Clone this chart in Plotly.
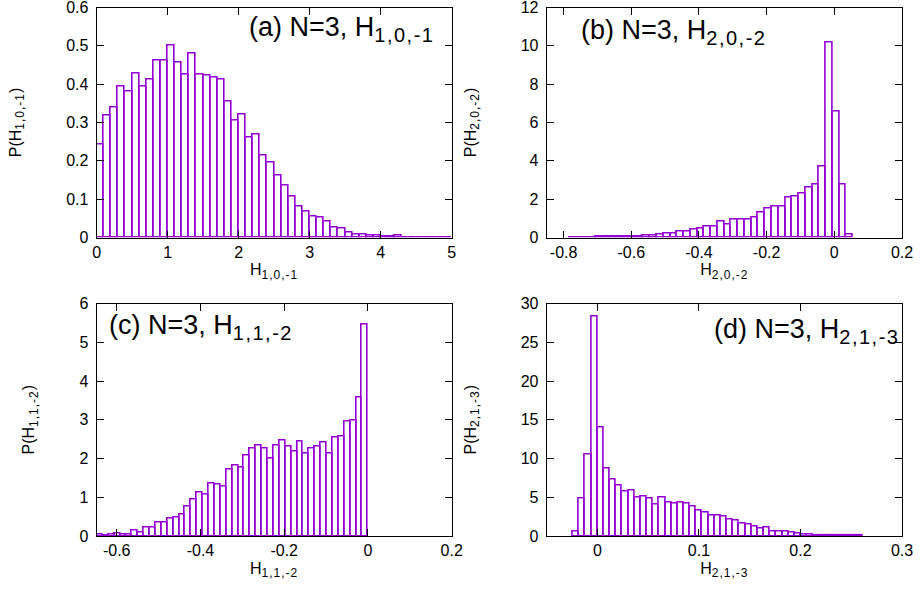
import plotly.graph_objects as go

# ---------------- data ----------------
# (a) H_{1,0,-1}: bin width 0.1 starting at 0
a_bin0 = 0.0
a_width = 0.1
a_vals = [0.243, 0.317, 0.338, 0.394, 0.380, 0.427, 0.393, 0.413, 0.462, 0.461,
          0.501, 0.457, 0.426, 0.479, 0.424, 0.422, 0.418, 0.411, 0.355, 0.305,
          0.320, 0.260, 0.270, 0.214, 0.195, 0.161, 0.136, 0.107, 0.081, 0.067,
          0.054, 0.052, 0.041, 0.025, 0.024, 0.013, 0.008, 0.008, 0.005, 0.005,
          0.003, 0.002, 0.005, 0.001, 0.001, 0.001, 0.0006, 0.0005, 0.0003, 0.0002]

# (b) H_{2,0,-2}: bin width 0.02, first left edge -0.785
b_bin0 = -0.785
b_width = 0.02
b_vals = [0.01, 0.02, 0.02, 0.02, 0.03, 0.03, 0.04, 0.05, 0.05, 0.07,
          0.07, 0.09, 0.10, 0.14, 0.22, 0.21, 0.29, 0.33, 0.44, 0.46,
          0.57, 0.60, 0.82, 0.67, 0.94, 0.93, 0.96, 1.02, 1.33, 1.49,
          1.64, 1.64, 2.07, 2.15, 2.32, 2.62, 2.75, 3.70, 10.2, 6.55,
          2.79, 0.14]

# (c) H_{1,1,-2}: 46 bins from -0.648 to 0
c_bin0 = -0.648
c_width = 0.648 / 46
c_vals = [0.03, 0.02, 0.03, 0.06, 0.04, 0.03, 0.13, 0.10, 0.21, 0.21,
          0.34, 0.36, 0.45, 0.49, 0.56, 0.75, 0.94, 1.11, 1.07, 1.35,
          1.33, 1.28, 1.71, 1.82, 1.76, 2.07, 2.26, 2.33, 2.27, 1.99,
          2.33, 2.46, 2.32, 2.17, 2.43, 2.13, 2.26, 2.30, 2.42, 2.14,
          2.53, 2.57, 2.95, 2.97, 3.58, 5.46]

# (d) H_{2,1,-3}: bin width ~0.00607 from -0.0243
d_bin0 = -0.0243
d_width = 0.00607
d_vals = [0.62, 4.78, 10.5, 28.3, 14.0, 8.7, 7.3, 6.55, 5.7, 5.9,
          4.98, 5.08, 4.85, 4.07, 4.97, 4.26, 4.25, 4.38, 4.25, 3.77,
          3.32, 3.04, 2.67, 2.60, 2.58, 2.12, 1.96, 1.62, 1.49, 1.23,
          0.97, 1.10, 0.58, 0.55, 0.58, 0.45, 0.26, 0.17, 0.13, 0.09,
          0.07, 0.05, 0.04, 0.03, 0.02, 0.02, 0.01]

# axis ticks
a_xticks = [0, 1, 2, 3, 4, 5]
a_yticks = [0, 0.1, 0.2, 0.3, 0.4, 0.5, 0.6]
b_xticks = [-0.8, -0.6, -0.4, -0.2, 0, 0.2]
b_yticks = [0, 2, 4, 6, 8, 10, 12]
c_xticks = [-0.6, -0.4, -0.2, 0, 0.2]
c_yticks = [0, 1, 2, 3, 4, 5, 6]
d_xticks = [0, 0.1, 0.2, 0.3]
d_yticks = [0, 5, 10, 15, 20, 25, 30]

panels = [
    dict(bin0=a_bin0, w=a_width, vals=a_vals, xr=[0, 5], yr=[0, 0.6],
         xt=a_xticks, yt=a_yticks, sub="1,0,-1", tag="(a)",
         ann=(2.12, 0.545)),
    dict(bin0=b_bin0, w=b_width, vals=b_vals, xr=[-0.85, 0.2], yr=[0, 12],
         xt=b_xticks, yt=b_yticks, sub="2,0,-2", tag="(b)",
         ann=(-0.754, 10.7)),
    dict(bin0=c_bin0, w=c_width, vals=c_vals, xr=[-0.648, 0.2], yr=[0, 6],
         xt=c_xticks, yt=c_yticks, sub="1,1,-2", tag="(c)",
         ann=(-0.623, 5.4)),
    dict(bin0=d_bin0, w=d_width, vals=d_vals, xr=[-0.05, 0.3], yr=[0, 30],
         xt=d_xticks, yt=d_yticks, sub="2,1,-3", tag="(d)",
         ann=(0.113, 26.4)),
]

W, H = 921, 603
xdoms = [[96.6 / W, 451.7 / W], [546.7 / W, 902 / W]]
ydoms = [[1 - 237.5 / H, 1 - 7.5 / H], [1 - 536 / H, 1 - 303.5 / H]]

COLOR = "#9400d3"
FONT = "Liberation Sans, Arial, sans-serif"
TF = 16

def fmt(v):
    return "%g" % v

def sub_small(s):
    return '<sub><span style="font-size:12px;letter-spacing:1px">%s</span></sub>' % s

def sub_big(s):
    return '<sub><span style="font-size:20px;letter-spacing:1.5px">%s</span></sub>' % s

fig = go.Figure()
for i, p in enumerate(panels):
    n = i + 1
    xs = [p["bin0"] + p["w"] * (k + 0.5) for k in range(len(p["vals"]))]
    xname = "x%d" % n if n > 1 else "x"
    yname = "y%d" % n if n > 1 else "y"
    fig.add_trace(go.Bar(
        x=xs, y=p["vals"], width=[p["w"]] * len(xs),
        marker=dict(color="rgba(0,0,0,0)", line=dict(color=COLOR, width=1.6)),
        xaxis=xname, yaxis=yname, showlegend=False, hoverinfo="skip"))
    row, col = i // 2, i % 2
    common = dict(tickmode="array", ticks="inside", ticklen=7, tickcolor="black",
                  showline=True, linecolor="black", linewidth=1, mirror="ticks",
                  showgrid=False, zeroline=False, automargin=False,
                  ticklabeloverflow="allow",
                  tickfont=dict(family=FONT, size=TF, color="black"))
    xa = dict(domain=xdoms[col], range=p["xr"], anchor=yname,
              tickvals=p["xt"], ticktext=[fmt(v) for v in p["xt"]],
              title=dict(text="H" + sub_small(p["sub"]), standoff=4,
                         font=dict(family=FONT, size=TF, color="black")),
              **common)
    ya = dict(domain=ydoms[row], range=p["yr"], anchor=xname,
              tickvals=p["yt"], ticktext=[fmt(v) for v in p["yt"]],
              ticklabelstandoff=4,
              title=dict(text="P(H" + sub_small(p["sub"]) + ")", standoff=40,
                         font=dict(family=FONT, size=TF, color="black")),
              **common)
    fig.update_layout(**{("xaxis%d" % n if n > 1 else "xaxis"): xa,
                         ("yaxis%d" % n if n > 1 else "yaxis"): ya})
    fig.add_annotation(x=p["ann"][0], y=p["ann"][1], xref=xname, yref=yname,
                       text="%s N=3, H%s" % (p["tag"], sub_big(p["sub"])),
                       showarrow=False, xanchor="left", yanchor="middle",
                       font=dict(family=FONT, size=27, color="black"))

fig.update_layout(width=W, height=H, margin=dict(l=0, r=0, t=0, b=0),
                  paper_bgcolor="white", plot_bgcolor="white",
                  bargap=0, barmode="overlay")
fig.write_html("out.html", config={"displayModeBar": False},
               post_script="document.body.style.margin='0px';"
                           "document.body.style.overflow='hidden';")
